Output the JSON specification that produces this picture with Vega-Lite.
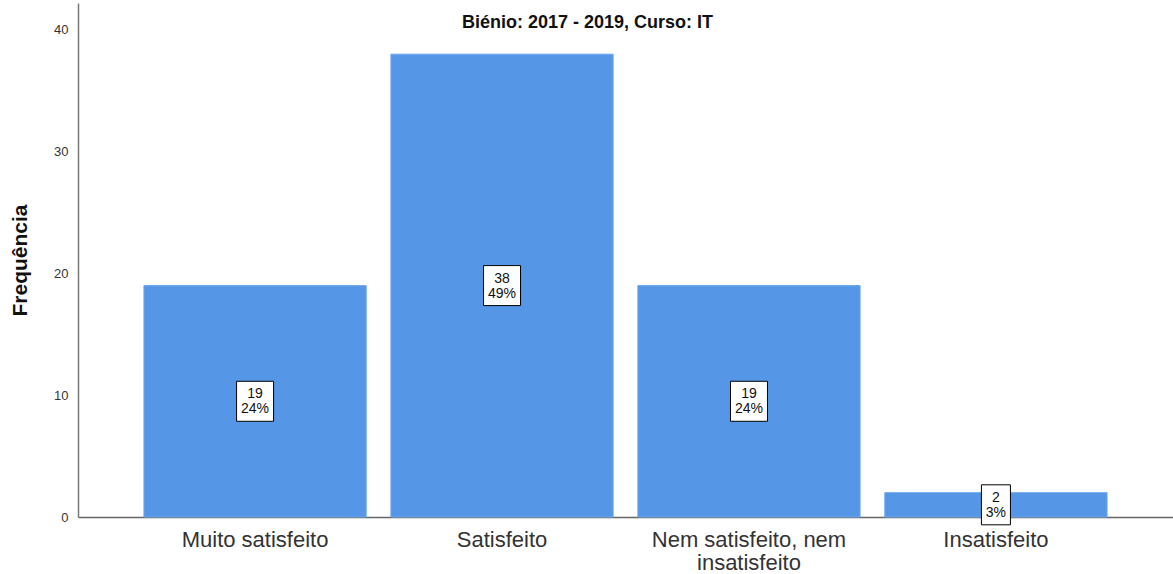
{
  "$schema": "https://vega.github.io/schema/vega-lite/v6.json",
  "width": 1095,
  "height": 514,
  "autosize": {"type": "none"},
  "padding": {"left": 78, "top": 3, "right": 0, "bottom": 57},
  "background": "white",
  "title": {
    "text": "Biénio: 2017 - 2019, Curso: IT",
    "anchor": "middle",
    "frame": "group",
    "dx": -38,
    "offset": -38,
    "baseline": "middle",
    "fontSize": 18,
    "fontWeight": "bold",
    "font": "Liberation Sans",
    "color": "#111111"
  },
  "config": {"view": {"stroke": null}},
  "data": {
    "values": [
      {"cat": "Muito satisfeito", "count": 19, "pct": "24%"},
      {"cat": "Satisfeito", "count": 38, "pct": "49%"},
      {"cat": "Nem satisfeito, nem insatisfeito", "count": 19, "pct": "24%"},
      {"cat": "Insatisfeito", "count": 2, "pct": "3%"}
    ]
  },
  "transform": [{"calculate": "datum.count / 2", "as": "mid"}],
  "encoding": {
    "x": {
      "field": "cat",
      "type": "nominal",
      "sort": null,
      "scale": {"paddingInner": 0.1, "paddingOuter": 0.267},
      "axis": {
        "title": null,
        "labelAngle": 0,
        "labelFontSize": 22,
        "labelFont": "Liberation Sans",
        "labelColor": "#333333",
        "labelPadding": 12,
        "labelBaseline": "top",
        "labelLineHeight": 23,
        "labelLimit": 400,
        "labelExpr": "datum.label == 'Nem satisfeito, nem insatisfeito' ? ['Nem satisfeito, nem', 'insatisfeito'] : datum.label",
        "ticks": false,
        "domainColor": "#666666",
        "domainWidth": 1.5,
        "grid": false
      }
    }
  },
  "layer": [
    {
      "mark": {"type": "bar", "color": "#5596E6", "stroke": "#6EA8EE", "strokeWidth": 1},
      "encoding": {
        "y": {
          "field": "count",
          "type": "quantitative",
          "scale": {"domain": [0, 42.2], "nice": false},
          "axis": {
            "title": "Frequência",
            "titleFontSize": 21,
            "titleFont": "Liberation Sans",
            "titleFontWeight": "bold",
            "titleColor": "#111111",
            "titleX": -58,
            "titleBaseline": "middle",
            "values": [0, 10, 20, 30, 40],
            "labelFontSize": 13,
            "labelFont": "Liberation Sans",
            "labelColor": "#333333",
            "labelPadding": 10,
            "ticks": false,
            "grid": false,
            "domainColor": "#777777",
            "domainWidth": 1.5
          }
        }
      }
    },
    {
      "transform": [{"filter": "datum.count >= 10"}],
      "mark": {"type": "bar", "width": 37, "yOffset": -20, "y2Offset": 20, "fill": "white", "stroke": "black", "strokeWidth": 1},
      "encoding": {
        "y": {"field": "mid", "type": "quantitative"},
        "y2": {"field": "mid"}
      }
    },
    {
      "transform": [{"filter": "datum.count < 10"}],
      "mark": {"type": "bar", "width": 29, "yOffset": -20, "y2Offset": 20, "fill": "white", "stroke": "black", "strokeWidth": 1},
      "encoding": {
        "y": {"field": "mid", "type": "quantitative"},
        "y2": {"field": "mid"}
      }
    },
    {
      "mark": {"type": "text", "dy": -7, "fontSize": 14, "font": "Liberation Sans", "color": "#111111"},
      "encoding": {
        "y": {"field": "mid", "type": "quantitative"},
        "text": {"field": "count"}
      }
    },
    {
      "mark": {"type": "text", "dy": 8, "fontSize": 14, "font": "Liberation Sans", "color": "#111111"},
      "encoding": {
        "y": {"field": "mid", "type": "quantitative"},
        "text": {"field": "pct"}
      }
    }
  ]
}
